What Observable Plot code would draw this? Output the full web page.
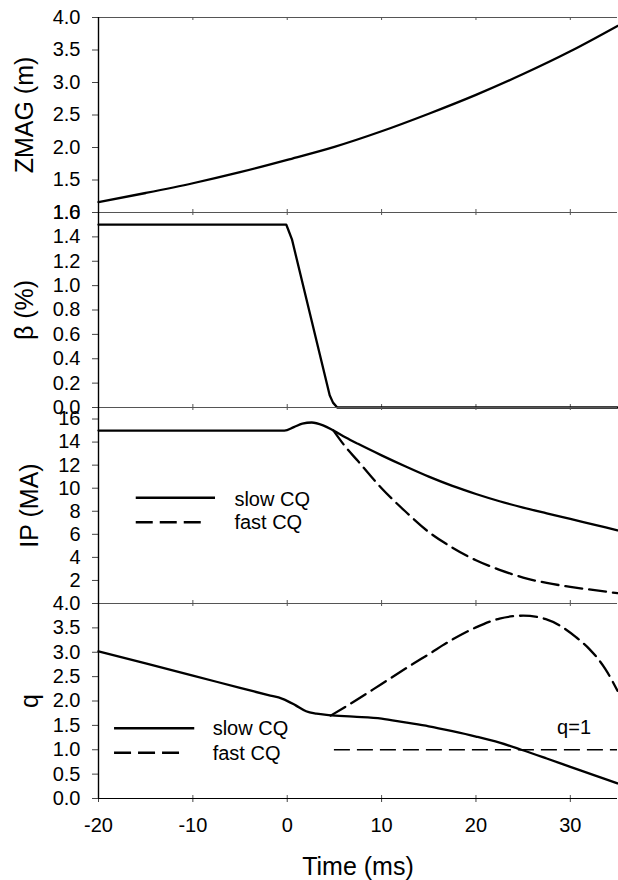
<!DOCTYPE html>
<html><head><meta charset="utf-8">
<script src="https://cdn.jsdelivr.net/npm/d3@7"></script>
<script src="https://cdn.jsdelivr.net/npm/@observablehq/plot@0.6"></script>
<style>
body{margin:0;background:#fff;}
#wrap{position:relative;width:618px;height:880px;overflow:hidden;background:#fff;}
#wrap svg{position:absolute;left:0;overflow:visible;}
</style></head><body><div id="wrap"></div>
<script>
// ---------- data ----------
const xTicks = [-20, -10, 0, 10, 20, 30];

const zmagTime  = [-20, -15, -10, -5, 0, 5, 10, 15, 20, 25, 30, 35];
const zmagValue = [1.16, 1.30, 1.45, 1.62, 1.81, 2.01, 2.25, 2.52, 2.81, 3.13, 3.48, 3.87];

const betaTime  = [-20, -0.1, 0.15, 0.5, 4.5, 4.85, 5.3, 35];
const betaValue = [1.5, 1.5, 1.45, 1.38, 0.10, 0.04, 0, 0];

const ipSlowTime  = [-20, -0.3, 0.7, 1.6, 2.6, 3.8, 4.9, 6.2, 7.5, 10, 12.5, 15, 17.5, 20, 22.5, 25, 27.5, 30, 32.5, 35];
const ipSlowValue = [15, 15, 15.3, 15.6, 15.7, 15.45, 15.0, 14.4, 13.85, 12.85, 11.9, 11.0, 10.2, 9.5, 8.87, 8.32, 7.82, 7.33, 6.84, 6.35];
const ipFastTime  = [4.9, 6.2, 7.5, 8.8, 10, 12.5, 15, 17.5, 20, 22.5, 25, 27.5, 30, 35];
const ipFastValue = [15.0, 13.56, 12.35, 11.1, 10.0, 8.0, 6.2, 4.85, 3.75, 2.92, 2.25, 1.78, 1.45, 0.9];

const qSlowTime  = [-20, -10, -5, -2, -0.5, 0.9, 2, 3.1, 4.4, 7, 10, 12.5, 15, 17.5, 20, 22.5, 24.8, 27.5, 30, 32.5, 35];
const qSlowValue = [3.02, 2.52, 2.27, 2.12, 2.045, 1.91, 1.79, 1.74, 1.71, 1.68, 1.64, 1.56, 1.48, 1.38, 1.27, 1.145, 1.0, 0.82, 0.65, 0.48, 0.31];
const qFastTime  = [4.6, 7, 10, 12.5, 15, 17.5, 20, 22.5, 25, 27.4, 29.2, 30.6, 32, 33.7, 35];
const qFastValue = [1.70, 1.98, 2.35, 2.66, 2.96, 3.26, 3.51, 3.69, 3.75, 3.68, 3.51, 3.31, 3.07, 2.66, 2.21];

const qRefValue = 1, qRefStart = 5, qRefEnd = 35;
const qRefLabel = "q=1";

const zmagTicks = [1.0, 1.5, 2.0, 2.5, 3.0, 3.5, 4.0];
const betaTicks = [0, 0.2, 0.4, 0.6, 0.8, 1.0, 1.2, 1.4, 1.6];
const ipTicks   = [2, 4, 6, 8, 10, 12, 14, 16];
const qTicks    = [0, 0.5, 1.0, 1.5, 2.0, 2.5, 3.0, 3.5, 4.0];

const legendLabels = ["slow CQ", "fast CQ"];
const panelTitles = ["ZMAG (m)", "β (%)", "IP (MA)", "q"];
const xTitle = "Time (ms)";

// ---------- helpers ----------
const rows = (t, v) => t.map((d, i) => ({t: d, v: v[i]}));
const FONT = '"Liberation Sans", Arial, Helvetica, sans-serif';
const W = 618, ML = 98, MR = 1, MT = 17;
const DASH = "17,7";
const wrap = document.getElementById("wrap");

function panel({top, bottom, mb = 17, yDomain, yTicks, fmt, title, titleDx, marks, last = false}) {
  const h = bottom - top;
  const pxPerUnit = h / (yDomain[1] - yDomain[0]);
  const tk = 3 / pxPerUnit;
  const all = [
    Plot.ruleY([yDomain[0], yDomain[1]], {stroke: "#555", strokeWidth: 1.2}),
    Plot.ruleX(xTicks, {x: d => d, y1: yDomain[0], y2: yDomain[0] + tk, stroke: "#555"}),
    Plot.ruleX(xTicks, {x: d => d, y1: yDomain[1], y2: yDomain[1] - tk, stroke: "#555"}),
    Plot.axisY(yTicks, {tickSize: 6, tickPadding: 12, tickFormat: fmt, label: null, stroke: "#444", fill: "#000"}),
    Plot.ruleX([-20], {stroke: "#000", strokeWidth: 1.4}),
    Plot.text([title], {text: d => d, frameAnchor: "left", dx: titleDx, rotate: -90,
      textAnchor: "middle", lineAnchor: "bottom", fontSize: 25, fill: "#000"}),
    ...marks
  ];
  if (last) {
    all.push(Plot.axisX(xTicks, {tickSize: 4, tickPadding: 15, tickFormat: d => String(d), label: null, stroke: "#444", fill: "#000"}));
    all.push(Plot.ruleY([yDomain[0]], {stroke: "#000", strokeWidth: 1.2}));
    all.push(Plot.text([xTitle], {text: d => d, frameAnchor: "bottom", dy: 76, lineAnchor: "bottom", fontSize: 25, fill: "#000"}));
  }
  const svg = Plot.plot({
    width: W, height: h + MT + mb,
    marginLeft: ML, marginRight: MR, marginTop: MT, marginBottom: mb,
    style: {background: "transparent", fontFamily: FONT, fontSize: "20px", color: "#000", overflow: "visible"},
    x: {domain: [-20, 35], axis: null},
    y: {domain: yDomain, axis: null},
    marks: all
  });
  svg.style.top = (top - MT) + "px";
  wrap.appendChild(svg);
}

const lineOpts = {x: "t", y: "v", stroke: "#000", strokeWidth: 2.3, curve: "monotone-x"};
const f1 = d3.format(".1f"), f0 = d3.format("d");

// Panel 1: ZMAG
panel({top: 17, bottom: 212, yDomain: [1, 4], yTicks: zmagTicks, fmt: f1, title: panelTitles[0], titleDx: -66,
  marks: [Plot.line(rows(zmagTime, zmagValue), lineOpts)]});

// Panel 2: beta
panel({top: 212, bottom: 407, yDomain: [0, 1.6], yTicks: betaTicks, fmt: f1, title: panelTitles[1], titleDx: -66,
  marks: [Plot.line(rows(betaTime, betaValue), {...lineOpts, curve: "linear"})]});

// Panel 3: IP
panel({top: 407, bottom: 603, yDomain: [0, 17], yTicks: ipTicks, fmt: f0, title: panelTitles[2], titleDx: -61,
  marks: [
    Plot.line(rows(ipSlowTime, ipSlowValue), lineOpts),
    Plot.line(rows(ipFastTime, ipFastValue), {...lineOpts, strokeDasharray: DASH}),
    Plot.ruleY([9.17], {x1: -16, x2: -7.6, stroke: "#000", strokeWidth: 2.4}),
    Plot.ruleY([7.05], {x1: -16, x2: -8.4, stroke: "#000", strokeWidth: 2.4, strokeDasharray: DASH}),
    Plot.text(legendLabels, {text: d => d, x: -5.6, y: (d, i) => [8.5, 6.42][i], textAnchor: "start", lineAnchor: "bottom", fill: "#000"})
  ]});

// Panel 4: q
panel({top: 603, bottom: 798, mb: 82, yDomain: [0, 4], yTicks: qTicks, fmt: f1, title: panelTitles[3], titleDx: -61, last: true,
  marks: [
    Plot.ruleY([qRefValue], {x1: qRefStart, x2: qRefEnd, stroke: "#000", strokeWidth: 1.3, strokeDasharray: "16,7"}),
    Plot.line(rows(qSlowTime, qSlowValue), lineOpts),
    Plot.line(rows(qFastTime, qFastValue), {...lineOpts, strokeDasharray: DASH}),
    Plot.text([qRefLabel], {text: d => d, x: 28.6, y: 1.315, textAnchor: "start", lineAnchor: "bottom", fill: "#000"}),
    Plot.ruleY([1.44], {x1: -18.3, x2: -9.8, stroke: "#000", strokeWidth: 2.4}),
    Plot.ruleY([0.94], {x1: -18.3, x2: -10.8, stroke: "#000", strokeWidth: 2.4, strokeDasharray: DASH}),
    Plot.text(legendLabels, {text: d => d, x: -7.9, y: (d, i) => [1.295, 0.80][i], textAnchor: "start", lineAnchor: "bottom", fill: "#000"})
  ]});
</script>
</body></html>
